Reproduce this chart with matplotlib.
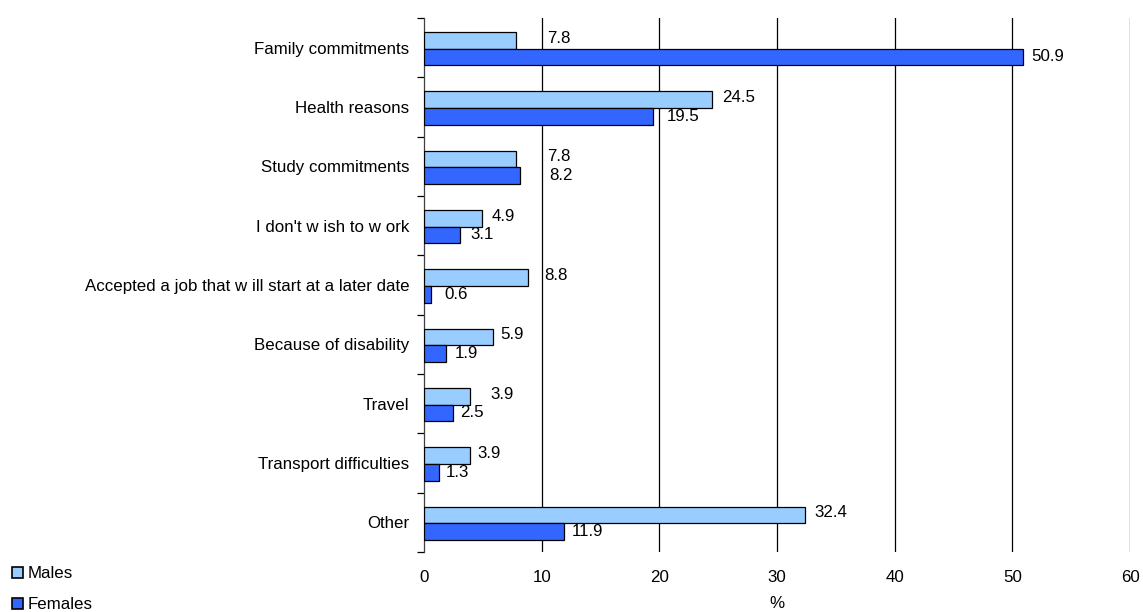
import matplotlib
matplotlib.use("Agg")
import matplotlib.pyplot as plt
from matplotlib.patches import Patch
import numpy as np

plt.rcParams['font.family'] = ['Liberation Sans', 'DejaVu Sans']

categories = [
    "Family commitments",
    "Health reasons",
    "Study commitments",
    "I don't w ish to w ork",
    "Accepted a job that w ill start at a later date",
    "Because of disability",
    "Travel",
    "Transport difficulties",
    "Other",
]
males = [7.8, 24.5, 7.8, 4.9, 8.8, 5.9, 3.9, 3.9, 32.4]
females = [50.9, 19.5, 8.2, 3.1, 0.6, 1.9, 2.5, 1.3, 11.9]
series_names = ["Males", "Females"]
x_ticks = [0, 10, 20, 30, 40, 50, 60]

# label offsets (pixels to the right of each bar end)
male_label_dx = [31, 10, 31, 10, 17, 7, 21, 8, 9]
female_label_dx = [8, 13, 29, 10, 13, 8, 7, 6, 8]

MALE_COLOR = "#99CCFF"
FEMALE_COLOR = "#3366FF"
FS = 12.2

fig = plt.figure(figsize=(11.43, 6.12), dpi=100)
ax = fig.add_axes([424 / 1143, 60 / 612, 706 / 1143, 534 / 612])

y = np.arange(len(categories))
h = 0.28
shift = 0.015
ax.barh(y + shift - h / 2, males, height=h, color=MALE_COLOR,
        edgecolor="black", linewidth=0.9, zorder=3)
ax.barh(y + shift + h / 2, females, height=h, color=FEMALE_COLOR,
        edgecolor="black", linewidth=0.9, zorder=3)

for i in range(len(categories)):
    ax.annotate(f"{males[i]:.1f}", xy=(males[i], y[i] + shift - h / 2),
                xytext=(male_label_dx[i], 2), textcoords="offset pixels",
                ha="left", va="center", fontsize=FS, color="black", zorder=4)
    ax.annotate(f"{females[i]:.1f}", xy=(females[i], y[i] + shift + h / 2),
                xytext=(female_label_dx[i], 0), textcoords="offset pixels",
                ha="left", va="center", fontsize=FS, color="black", zorder=4)

ax.set_xlim(0, 60)
ax.set_ylim(len(categories) - 0.5, -0.5)

ax.set_xticks(x_ticks)
ax.set_xticklabels([str(t) for t in x_ticks], fontsize=FS)
ax.tick_params(axis="x", length=0, pad=13)
for t in x_ticks[1:]:
    ax.axvline(t, color="black", linewidth=0.9, zorder=1)

# category boundaries carry the tick marks; labels sit at centres
ax.set_yticks(np.arange(len(categories) + 1) - 0.5)
ax.set_yticklabels([])
ax.set_yticks(y, minor=True)
ax.set_yticklabels(categories, minor=True, fontsize=FS)
ax.tick_params(axis="y", which="major", length=5, width=0.9, direction="out")
ax.tick_params(axis="y", which="minor", length=0, pad=10.5)

for s in ["top", "right", "bottom"]:
    ax.spines[s].set_visible(False)
ax.spines["left"].set_linewidth(0.9)
ax.spines["left"].set_color("#404040")

ax.set_xlabel("%", fontsize=FS, labelpad=8)

handles = [Patch(facecolor=MALE_COLOR, edgecolor="black", linewidth=1.2),
           Patch(facecolor=FEMALE_COLOR, edgecolor="black", linewidth=1.2)]
fig.legend(handles, series_names, loc="lower left", bbox_to_anchor=(0.0, -0.02),
           frameon=False, fontsize=FS, handlelength=0.65, handleheight=0.65,
           handletextpad=0.3, labelspacing=0.95, borderaxespad=0.3)

fig.savefig("out.png", dpi=100)
